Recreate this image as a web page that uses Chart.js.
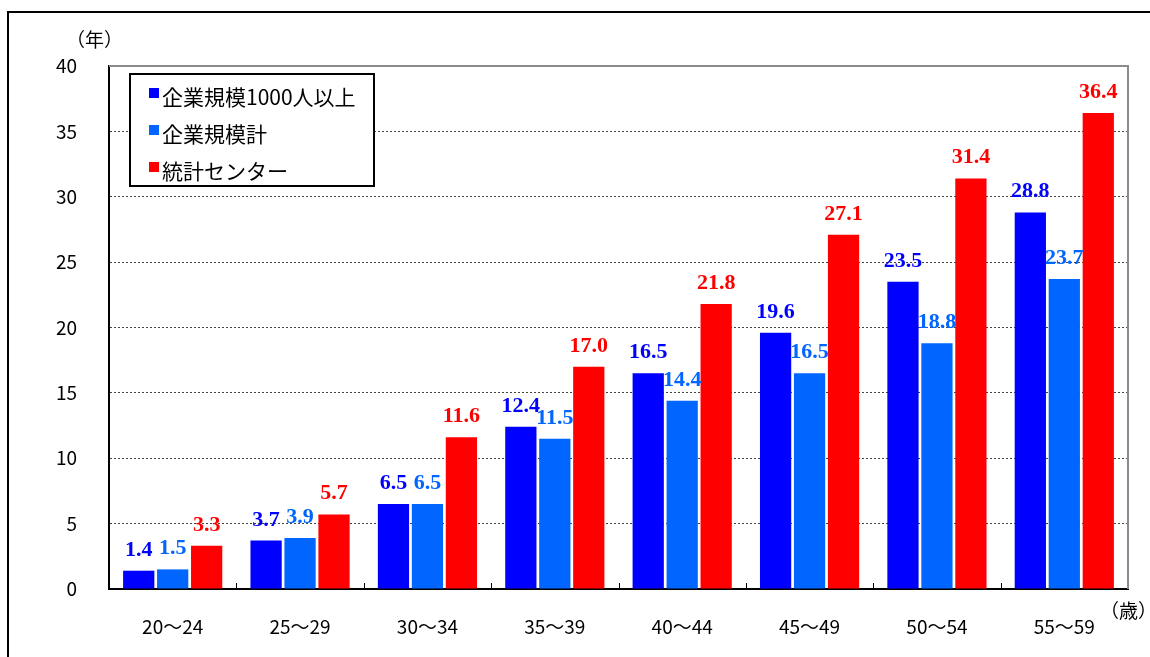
<!DOCTYPE html>
<html>
<head>
<meta charset="utf-8">
<script src="https://cdn.jsdelivr.net/npm/chart.js@4.4.1/dist/chart.umd.min.js"></script>
<style>
  html, body { margin:0; padding:0; background:#fff; overflow:hidden; }
  #wrap { position:relative; width:1150px; height:657px; }
  #frame { position:absolute; left:7px; top:11px; width:1200px; height:700px; border:2px solid #000; box-sizing:border-box; pointer-events:none; }
  canvas { position:absolute; left:0; top:0; }
</style>
</head>
<body>
<div id="wrap">
  <canvas id="c" width="1150" height="657"></canvas>
  <div id="frame"></div>
</div>
<script>
const categories = ['20～24','25～29','30～34','35～39','40～44','45～49','50～54','55～59'];
const seriesNames = ['企業規模1000人以上','企業規模計','統計センター'];
const largeFirms = [1.4, 3.7, 6.5, 12.4, 16.5, 19.6, 23.5, 28.8];
const allFirms   = [1.5, 3.9, 6.5, 11.5, 14.4, 16.5, 18.8, 23.7];
const statCenter = [3.3, 5.7, 11.6, 17.0, 21.8, 27.1, 31.4, 36.4];
const yTicks = [0, 5, 10, 15, 20, 25, 30, 35, 40];
const yUnit = '（年）';
const xUnit = '（歳）';

const colors = ['#0000FF', '#0066FF', '#FF0000'];
const FONT = '"Noto Sans CJK JP", "Noto Sans", sans-serif';

const labelPlugin = {
  id: 'labels',
  afterDatasetsDraw(chart) {
    const ctx = chart.ctx;
    ctx.save();
    ctx.font = 'bold 22px "Liberation Serif", serif';
    ctx.textAlign = 'center';
    ctx.textBaseline = 'alphabetic';
    chart.data.datasets.forEach((ds, i) => {
      const meta = chart.getDatasetMeta(i);
      ctx.fillStyle = colors[i];
      meta.data.forEach((bar, j) => {
        ctx.fillText(ds.data[j].toFixed(1), bar.x, bar.y - 15);
      });
    });
    ctx.restore();
  }
};

const decoPlugin = {
  id: 'deco',
  beforeDatasetsDraw(chart) {
    const ctx = chart.ctx, a = chart.chartArea;
    ctx.save();
    ctx.strokeStyle = '#8c8c8c';
    ctx.lineWidth = 2;
    ctx.beginPath();
    ctx.moveTo(a.left, a.top);
    ctx.lineTo(a.right, a.top);
    ctx.lineTo(a.right, a.bottom);
    ctx.stroke();
    ctx.strokeStyle = '#000';
    ctx.lineWidth = 1;
    const w = (a.right - a.left) / categories.length;
    for (let k = 1; k < categories.length; k++) {
      const x = Math.round(a.left + k * w) + 0.5;
      ctx.beginPath();
      ctx.moveTo(x, a.bottom - 6);
      ctx.lineTo(x, a.bottom);
      ctx.stroke();
    }
    ctx.restore();
  },
  afterDraw(chart) {
    const ctx = chart.ctx;
    ctx.save();
    ctx.fillStyle = '#000';
    ctx.font = '19px ' + FONT;
    ctx.textBaseline = 'middle';
    ctx.textAlign = 'left';
    ctx.fillText(yUnit, 66, 40);
    ctx.fillText(xUnit, 1100, 611);
    const lx = 130, ly = 74, lw = 244, lh = 112;
    ctx.fillStyle = '#fff';
    ctx.fillRect(lx, ly, lw, lh);
    ctx.strokeStyle = '#000';
    ctx.lineWidth = 2;
    ctx.strokeRect(lx, ly, lw, lh);
    ctx.font = '21px ' + FONT;
    const rows = [96, 133, 170];
    seriesNames.forEach((n, i) => {
      ctx.fillStyle = colors[i];
      ctx.fillRect(149, rows[i] - 8, 10, 10);
      ctx.fillStyle = '#000';
      ctx.fillText(n, 162, rows[i] + 1);
    });
    ctx.restore();
  }
};

const mk = (i, data) => ({
  label: seriesNames[i],
  data: data,
  backgroundColor: colors[i],
  borderWidth: 0,
  categoryPercentage: 0.8,
  barPercentage: 0.92
});

new Chart(document.getElementById('c'), {
  type: 'bar',
  data: {
    labels: categories,
    datasets: [mk(0, largeFirms), mk(1, allFirms), mk(2, statCenter)]
  },
  options: {
    responsive: false,
    animation: false,
    layout: { padding: { left: 0, top: 66, right: 22, bottom: 0 } },
    plugins: { legend: { display: false }, tooltip: { enabled: false } },
    scales: {
      x: {
        afterFit(s) { s.height = 68; },
        grid: { display: false, drawTicks: false },
        border: { display: true, color: '#000', width: 2 },
        ticks: { color: '#000', font: { family: FONT, size: 19 }, padding: 26 }
      },
      y: {
        min: 0, max: 40,
        afterFit(s) { s.width = 109; },
        afterBuildTicks(s) { s.ticks = yTicks.map(v => ({ value: v })); },
        grid: {
          drawTicks: false,
          color: ctx => (ctx.tick && (ctx.tick.value === 0 || ctx.tick.value === 40)) ? 'rgba(0,0,0,0)' : '#444',
          lineWidth: 1
        },
        border: { display: true, color: '#000', width: 2, dash: [2, 2] },
        ticks: { color: '#000', font: { family: FONT, size: 19 }, padding: 32 }
      }
    }
  },
  plugins: [decoPlugin, labelPlugin]
});
</script>
</body>
</html>
